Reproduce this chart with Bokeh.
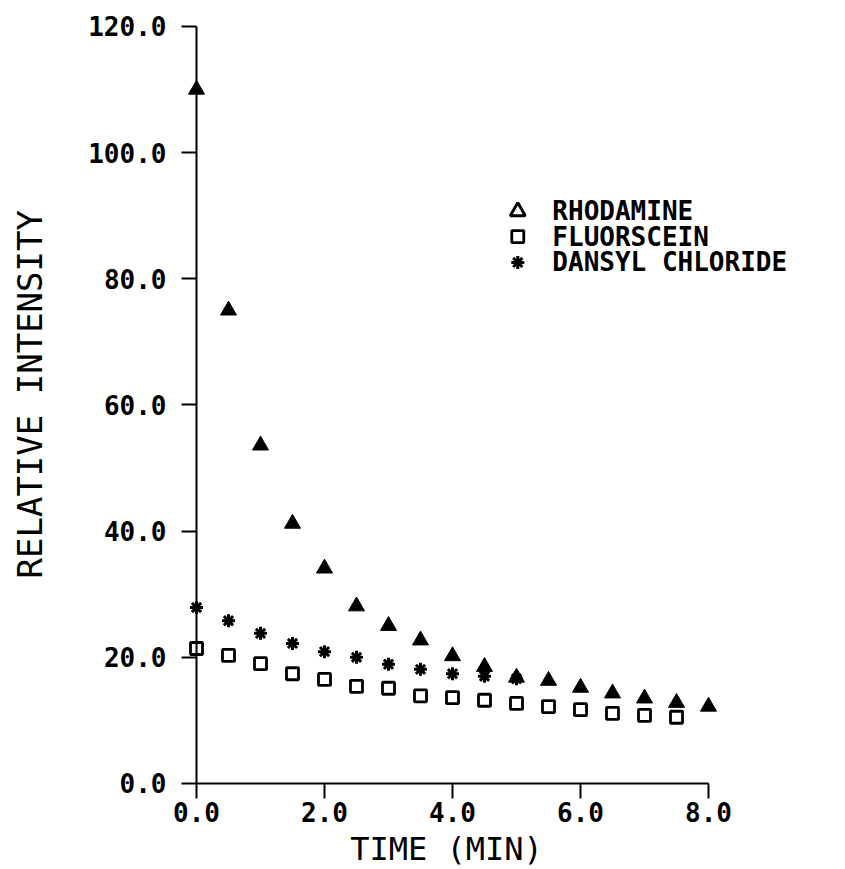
import math
from bokeh.plotting import figure
from bokeh.models import Range1d, FixedTicker, NumeralTickFormatter, Label
from bokeh.core.properties import value
from bokeh.embed import file_html
from bokeh.resources import INLINE

# ---- data ----
time_rhodamine = [0.0, 0.5, 1.0, 1.5, 2.0, 2.5, 3.0, 3.5, 4.0, 4.5, 5.0, 5.5, 6.0, 6.5, 7.0, 7.5, 8.0]
rhodamine = [110.0, 75.0, 53.6, 41.2, 34.1, 28.1, 25.0, 22.7, 20.2, 18.5, 16.8, 16.3, 15.2, 14.3, 13.5, 12.8, 12.2]

time_fluorescein = [0.0, 0.5, 1.0, 1.5, 2.0, 2.5, 3.0, 3.5, 4.0, 4.5, 5.0, 5.5, 6.0, 6.5, 7.0, 7.5]
fluorescein = [21.4, 20.3, 19.0, 17.4, 16.5, 15.4, 15.1, 13.9, 13.6, 13.2, 12.7, 12.2, 11.7, 11.1, 10.8, 10.5]

time_dansyl = [0.0, 0.5, 1.0, 1.5, 2.0, 2.5, 3.0, 3.5, 4.0, 4.5, 5.0]
dansyl = [27.9, 25.8, 23.8, 22.2, 20.9, 20.0, 18.9, 18.1, 17.4, 17.0, 16.6]

series_names = ["RHODAMINE", "FLUORSCEIN", "DANSYL CHLORIDE"]
x_ticks = [0, 2, 4, 6, 8]
y_ticks = [0, 20, 40, 60, 80, 100, 120]
x_title = "TIME (MIN)"
y_title = "RELATIVE INTENSITY"

MONO = "DejaVu Sans Mono"

# the frame fills the whole canvas; axes are pinned at x = 0 and y = 0
p = figure(width=845, height=869, output_backend="svg", toolbar_location=None,
           x_range=Range1d(-3.0625, 10.1406), y_range=Range1d(-13.633, 124.12),
           min_border_left=0, min_border_right=0, min_border_top=0, min_border_bottom=0)
p.outline_line_color = None
p.grid.visible = False
p.background_fill_color = "white"
p.border_fill_color = "white"

marker_styles = [
    dict(marker="triangle", size=16, fill_color="black", line_color="black", line_width=1),
    dict(marker="square", size=12, fill_color="white", line_color="black", line_width=2.8),
    dict(marker="asterisk", size=13, line_color="black", line_width=3),
]
series = [(time_rhodamine, rhodamine), (time_fluorescein, fluorescein), (time_dansyl, dansyl)]
for (xs, ys), st in zip(series, marker_styles):
    p.scatter(xs, ys, **st)

# legend (upper right, inside the plot area)
leg_x_marker = 5.02
leg_x_text = 5.56
leg_y = [90.7, 86.7, 82.6]
for name, yy, st in zip(series_names, leg_y, marker_styles):
    st2 = dict(st)
    if st2["marker"] == "triangle":
        st2 = dict(marker="triangle", size=15, fill_color="white", line_color="black", line_width=3)
    p.scatter([leg_x_marker], [yy], **st2)
    p.text([leg_x_text], [yy], text=[name], text_font=value(MONO), text_font_size="26px",
           text_font_style="bold", text_color="black", text_align="left", text_baseline="middle")

xa = p.xaxis[0]
ya = p.yaxis[0]
for ax in (xa, ya):
    ax.fixed_location = 0
    ax.axis_line_width = 2
    ax.axis_line_color = "black"
    ax.major_tick_line_width = 2
    ax.major_tick_line_color = "black"
    ax.major_tick_in = 0
    ax.major_tick_out = 15
    ax.minor_tick_line_color = None
    ax.major_label_text_font = MONO
    ax.major_label_text_font_size = "26px"
    ax.major_label_text_font_style = "bold"
    ax.major_label_text_color = "black"
    ax.formatter = NumeralTickFormatter(format="0.0")

xa.ticker = FixedTicker(ticks=x_ticks)
xa.bounds = (0, 8)
xa.major_label_standoff = 4

ya.ticker = FixedTicker(ticks=y_ticks)
ya.bounds = (0, 120)
ya.major_label_standoff = 15

# axis titles
p.add_layout(Label(x=3.906, y=-10.46, text=x_title, text_font=MONO, text_font_size="32px",
                   text_color="black", text_align="center", text_baseline="middle"))
p.add_layout(Label(x=-2.60, y=61.7, text=y_title, text_font=MONO, text_font_size="34px",
                   text_color="black", text_align="center", text_baseline="middle",
                   angle=math.pi / 2))

open("out.html", "w").write(file_html(p, INLINE))
